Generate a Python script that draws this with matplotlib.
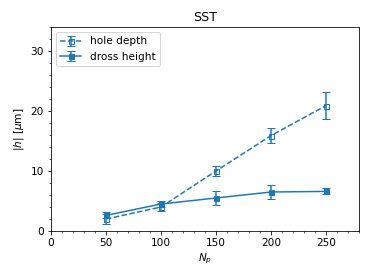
import matplotlib
matplotlib.use("Agg")
import matplotlib.pyplot as plt
from matplotlib.ticker import MultipleLocator

# data
n_p = [50, 100, 150, 200, 250]
hole_depth = [2.0, 4.0, 10.0, 15.9, 20.9]
hole_depth_err = [0.8, 0.6, 0.9, 1.2, 2.3]
dross_height = [2.6, 4.5, 5.5, 6.5, 6.6]
dross_height_err = [0.5, 0.5, 1.2, 1.15, 0.5]

plt.rcParams["font.size"] = 10.5

fig = plt.figure(figsize=(373 / 72, 280 / 72), dpi=72)
ax = fig.add_axes([51 / 373, 1 - 231 / 280, 308 / 373, 204 / 280])

ax.errorbar(n_p, hole_depth, yerr=hole_depth_err, fmt="s--", color="C0",
            mfc="none", ms=5, capsize=4, label="hole depth")
ax.errorbar(n_p, dross_height, yerr=dross_height_err, fmt="s-", color="C0",
            ms=5, capsize=4, label="dross height")

ax.set_xlim(0, 280)
ax.set_ylim(0, 34)
ax.xaxis.set_major_locator(MultipleLocator(50))
ax.xaxis.set_minor_locator(MultipleLocator(10))
ax.yaxis.set_major_locator(MultipleLocator(10))
ax.yaxis.set_minor_locator(MultipleLocator(2))

ax.set_xlabel(r"$N_p$")
ax.set_ylabel(r"$|h|$ [$\mu$m]")
ax.set_title("SST")
ax.legend(loc="upper left")

fig.savefig("out.png", dpi=72)
